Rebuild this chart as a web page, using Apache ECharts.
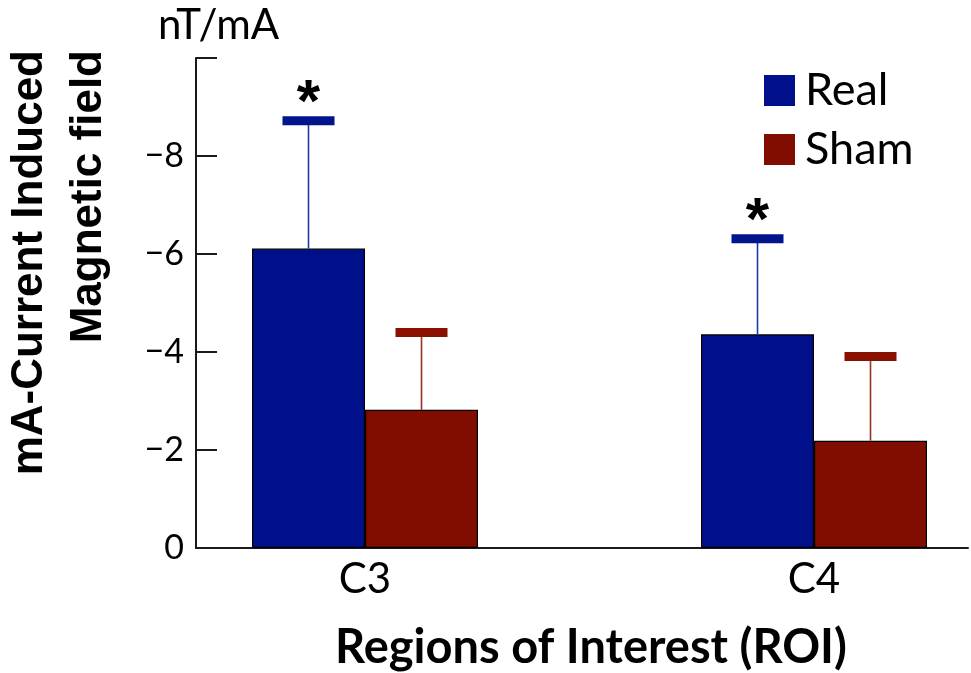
<!DOCTYPE html>
<html>
<head>
<meta charset="utf-8">
<script src="https://cdn.jsdelivr.net/npm/echarts@6/dist/echarts.min.js"></script>
<style>
  html, body { margin: 0; padding: 0; background: #fff; }
  #chart { width: 971px; height: 673px; }
</style>
</head>
<body>
<div id="chart"></div>
<script>
// ---- data ----
const categories = ['C3', 'C4'];
const seriesNames = ['Real', 'Sham'];
const realValues = [-6.11, -4.36];
const shamValues = [-2.82, -2.19];
const realErrEnd = [-8.72, -6.31];
const shamErrEnd = [-4.40, -3.91];
const realSignificant = [true, true];
const shamSignificant = [false, false];
const yUnit = 'nT/mA';
const yTitle = 'mA-Current Induced\nMagnetic field';
const xTitle = 'Regions of Interest (ROI)';

// ---- styles ----
const REAL_COLOR = '#00108a';
const SHAM_COLOR = '#800d00';
const REAL_STEM = '#2236a8';
const SHAM_STEM = '#9c3028';
const REAL_CAP = '#00148c';
const SHAM_CAP = '#8a1000';
const BAR_W = 113;
const CAP_W = 52;
const CAP_H = 9;
const CAL = 'Lato, "Open Sans", sans-serif';

const chart = echarts.init(document.getElementById('chart'), null, { renderer: 'canvas' });

function errSeries(name, values, errs, stars, side, stemColor, capColor) {
  return {
    type: 'custom',
    name: name,
    z: 5,
    silent: true,
    clip: false,
    encode: { x: 0, y: [1, 2] },
    data: categories.map((c, i) => [i, values[i], errs[i], stars[i] ? 1 : 0]),
    renderItem: function (params, api) {
      const x = api.value(0);
      const v = api.value(1);
      const e = api.value(2);
      const s = api.value(3);
      const base = api.coord([x, v]);
      const end = api.coord([x, e]);
      const cx = base[0] + side * BAR_W / 2;
      const children = [
        { type: 'line', shape: { x1: cx, y1: base[1], x2: cx, y2: end[1] },
          style: { stroke: stemColor, lineWidth: 1.6 } },
        { type: 'rect', shape: { x: cx - CAP_W / 2, y: end[1] - CAP_H / 2, width: CAP_W, height: CAP_H },
          style: { fill: capColor } }
      ];
      if (s) {
        children.push({ type: 'text', x: cx, y: end[1] - 16,
          style: { text: '*', font: 'bold 60px "Liberation Sans", Arial, sans-serif', fill: '#000',
                   align: 'center', verticalAlign: 'middle' } });
      }
      return { type: 'group', children: children };
    }
  };
}

const option = {
  backgroundColor: '#fff',
  animation: false,
  grid: { left: 196, right: 3, top: 58, bottom: 125, containLabel: false, outerBoundsMode: 'none' },
  legend: {
    data: seriesNames,
    orient: 'vertical',
    left: 764,
    top: 68,
    itemWidth: 31,
    itemHeight: 31,
    itemGap: 14,
    padding: 0,
    icon: 'rect',
    itemStyle: { borderWidth: 0 },
    textStyle: { fontFamily: CAL, fontSize: 45, color: '#000', lineHeight: 44, padding: [0, 0, 0, 5] }
  },
  xAxis: {
    type: 'value',
    min: (196 - 365) / 449,
    max: (968 - 365) / 449,
    splitLine: { show: false },
    axisLine: { show: true, onZero: false, lineStyle: { color: '#1a1a1a', width: 2 } },
    axisTick: { show: false },
    axisLabel: {
      customValues: categories.map((c, i) => i),
      formatter: function (v) { return categories[Math.round(v)] || ''; },
      fontFamily: CAL, fontSize: 42, color: '#000', margin: 10
    },
    name: xTitle,
    nameLocation: 'middle',
    nameGap: 76,
    nameTextStyle: { fontFamily: CAL, fontWeight: 'bold', fontSize: 47, color: '#000', padding: [0, 0, 0, 18] }
  },
  yAxis: {
    type: 'value',
    inverse: true,
    min: -10,
    max: 0,
    interval: 2,
    splitLine: { show: false },
    axisLine: { show: true, onZero: false, lineStyle: { color: '#1a1a1a', width: 2 } },
    axisTick: { show: true, inside: true, length: 21, lineStyle: { color: '#1a1a1a', width: 2 } },
    axisLabel: {
      formatter: function (v) { return v === -10 ? '' : (v < 0 ? '\u2212' + Math.abs(v) : String(v)); },
      fontFamily: CAL, fontSize: 34, color: '#000', margin: 12
    }
  },
  graphic: [
    { type: 'text', left: 158, top: 4,
      style: { text: yUnit, font: '42px ' + CAL, fill: '#000' } },
    { type: 'text', x: 0, y: 50, rotation: Math.PI / 2,
      style: { text: yTitle, font: 'bold 44px "Liberation Sans", Arial, sans-serif', fill: '#000',
               align: 'right', verticalAlign: 'top', lineHeight: 59 } }
  ],
  series: [
    { type: 'bar', name: 'Real', barWidth: BAR_W, barGap: '0%',
      data: categories.map((c, i) => [i, realValues[i]]),
      itemStyle: { color: REAL_COLOR, borderColor: '#000', borderWidth: 1.2 } },
    { type: 'bar', name: 'Sham', barWidth: BAR_W, barGap: '0%',
      data: categories.map((c, i) => [i, shamValues[i]]),
      itemStyle: { color: SHAM_COLOR, borderColor: '#000', borderWidth: 1.2 } },
    errSeries('Real error', realValues, realErrEnd, realSignificant, -1, REAL_STEM, REAL_CAP),
    errSeries('Sham error', shamValues, shamErrEnd, shamSignificant, 1, SHAM_STEM, SHAM_CAP)
  ]
};

chart.setOption(option);
</script>
</body>
</html>
